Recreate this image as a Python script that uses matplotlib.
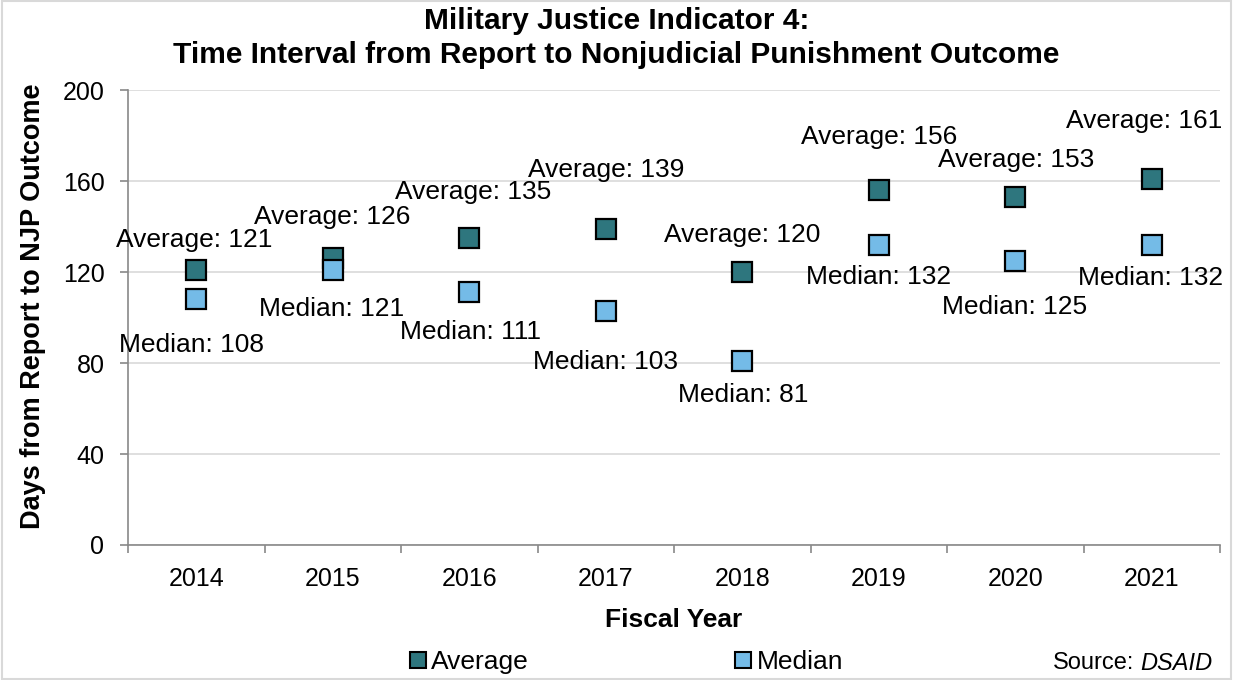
import matplotlib
matplotlib.use("Agg")
import matplotlib.pyplot as plt
from matplotlib.lines import Line2D
from matplotlib.patches import Rectangle

plt.rcParams['font.family'] = ['Liberation Sans', 'DejaVu Sans']

years = [2014, 2015, 2016, 2017, 2018, 2019, 2020, 2021]
average = [121, 126, 135, 139, 120, 156, 153, 161]
median = [108, 121, 111, 103, 81, 132, 125, 132]
series_names = ["Average", "Median"]

# label offsets in points (layout only)
avg_off = [(-1.4, 21.6), (-0.7, 29.5), (2.9, 33.1), (0, 42.5),
           (0, 26.6), (0, 38.2), (0.7, 26.6), (-5.8, 41.8)]
med_off = [(-3.6, -33.1), (-0.7, -28.1), (0.7, -28.1), (0, -36.7),
           (0.7, -24.5), (0, -23), (-0.7, -33.1), (-0.7, -23.8)]

avg_color = "#2E767E"
med_color = "#74BBE7"
grey = "#898989"

fig = plt.figure(figsize=(12.33, 6.8), dpi=100)
ax = fig.add_axes([128 / 1233, 135 / 680, 1092 / 1233, 455 / 680])

ax.plot(years, average, linestyle="none", marker="s", markersize=15,
        markerfacecolor=avg_color, markeredgecolor="black", markeredgewidth=1.6, zorder=3)
ax.plot(years, median, linestyle="none", marker="s", markersize=15,
        markerfacecolor=med_color, markeredgecolor="black", markeredgewidth=1.6, zorder=3)

for i, y in enumerate(years):
    ax.annotate("Average: %d" % average[i], (y, average[i]), xytext=avg_off[i],
                textcoords="offset points", ha="center", va="center", fontsize=19)
    ax.annotate("Median: %d" % median[i], (y, median[i]), xytext=med_off[i],
                textcoords="offset points", ha="center", va="center", fontsize=19)

ax.set_xlim(2013.5, 2021.5)
ax.set_ylim(0, 200)
ax.set_yticks(range(0, 201, 40))
ax.set_xticks(years)
ax.set_xticks([y + 0.5 for y in [2013] + years], minor=True)
ax.tick_params(axis="x", which="major", length=0, labelsize=18, pad=16)
ax.tick_params(axis="x", which="minor", length=6, color=grey, width=1.2)
ax.tick_params(axis="y", length=6, color=grey, width=1.2, labelsize=18, pad=11)
ax.grid(axis="y", color="#d9d9d9", linewidth=1.2)
ax.set_axisbelow(True)
for s in ["top", "right"]:
    ax.spines[s].set_visible(False)
for s in ["left", "bottom"]:
    ax.spines[s].set_color(grey)
    ax.spines[s].set_linewidth(1.2)

ax.set_xlabel("Fiscal Year", fontsize=19, fontweight="bold", va="center")
ax.xaxis.set_label_coords(0.5, -0.165)
ax.set_ylabel("Days from Report to NJP Outcome", fontsize=19.5, fontweight="bold", va="center")
ax.yaxis.set_label_coords(-0.087, 0.524)

fig.text(0.5, 1 - 38 / 680,
         "Military Justice Indicator 4:\nTime Interval from Report to Nonjudicial Punishment Outcome",
         ha="center", va="center", fontsize=21.5, fontweight="bold", linespacing=1.3)

colors = [avg_color, med_color]
legend_x = [409 / 1233, 734 / 1233]
for name, c, lx in zip(series_names, colors, legend_x):
    h = Line2D([], [], linestyle="none", marker="s", markersize=11,
               markerfacecolor=c, markeredgecolor="black", markeredgewidth=1.5)
    fig.legend([h], [name], loc="center left", bbox_to_anchor=(lx, 1 - 662 / 680),
               frameon=False, fontsize=19, handlelength=0.7, handletextpad=0.15,
               borderpad=0, borderaxespad=0)

fig.text(1212 / 1233, 1 - 663 / 680, "DSAID", ha="right", va="center", fontsize=17, style="italic")
fig.text(1134 / 1233, 1 - 663 / 680, "Source:", ha="right", va="center", fontsize=17)

fig.patches.append(Rectangle((0.002, 0.002), 0.996, 0.996, transform=fig.transFigure,
                             fill=False, edgecolor="#d9d9d9", linewidth=1.5))

fig.savefig("out.png", dpi=100)
